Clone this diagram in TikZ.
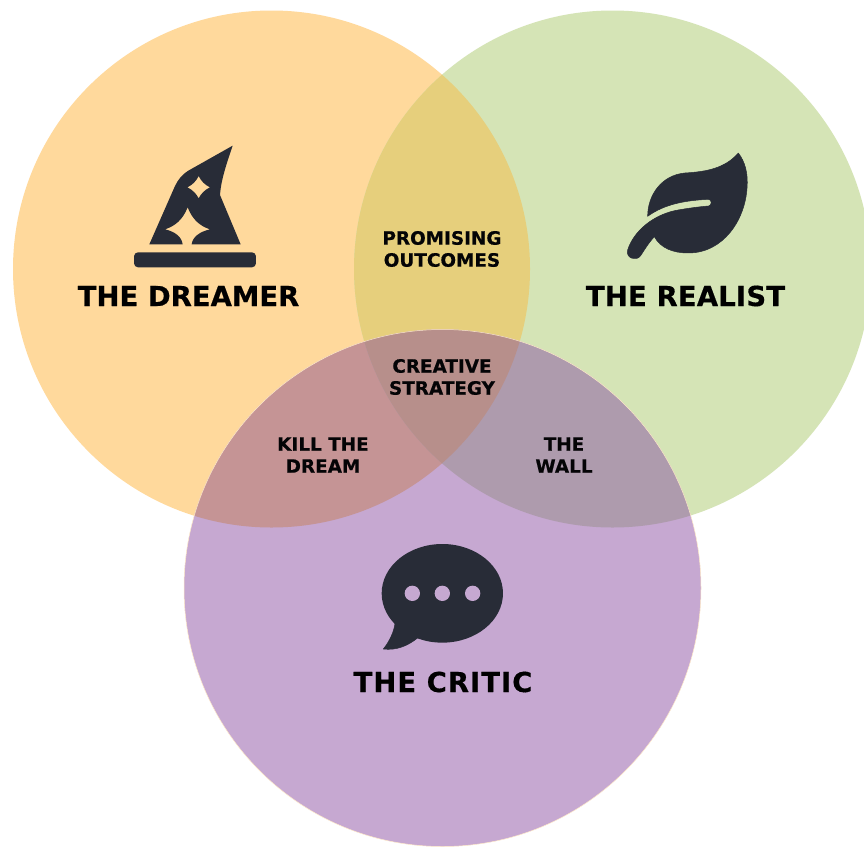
\documentclass[tikz,border=0pt]{standalone}
\usepackage{fontspec}
\setmainfont[BoldFeatures={FakeBold=0.5}]{DejaVu Sans}
\definecolor{cO}{HTML}{FFD99C}
\definecolor{cG}{HTML}{D5E4B6}
\definecolor{cP}{HTML}{C6A8D1}
\definecolor{cOG}{HTML}{E6CF7C}
\definecolor{cOP}{HTML}{C59495}
\definecolor{cGP}{HTML}{AE9BAD}
\definecolor{cAll}{HTML}{B78F8B}
\definecolor{ink}{HTML}{282C37}
\tikzset{
  big/.style={font=\bfseries\fontsize{27.5}{27.5}\selectfont,text=black,inner sep=0pt},
  small/.style={font=\bfseries\fontsize{18.4}{22}\selectfont,text=black!90!ink,align=center,inner sep=0pt},
  icon/.style={fill=ink,draw=ink,line width=.5pt,line join=round}
}
\def\cA{(271.5,269) circle (258.5)}
\def\cB{(612.5,269) circle (258.5)}
\def\cC{(442.5,588) circle (258.5)}
\begin{document}
\begin{tikzpicture}[x=1pt,y=-1pt]
\useasboundingbox (0,0) rectangle (864,846);
\clip (0,0) rectangle (864,846);
\fill[white] (0,0) rectangle (864,846);
\fill[cO] \cA;
\fill[cG] \cB;
\begin{scope}\clip \cA; \fill[cOG] \cB; \end{scope}
\fill[cP] \cC;
\begin{scope}\clip \cC; \fill[cOP] \cA; \fill[cGP] \cB;
  \clip \cA; \fill[cAll] \cB; \end{scope}
\draw[cO!55!white,line width=.5pt] \cC;
% hat
\begin{scope}[shift={(120,130)},x=0.3333pt,y=-0.3333pt]
\fill[fill=ink,even odd rule] (338,47) -- (205,122) .. controls (185,135) and (175,148) .. (165,168) -- (88,343) -- (188,343)
  .. controls (185,320) and (165,305) .. (135,298) .. controls (165,288) and (188,270) .. (203,232)
  .. controls (218,270) and (240,288) .. (270,298) .. controls (240,305) and (218,320) .. (215,343)
  -- (362,343) -- (300,195) .. controls (303,150) and (320,100) .. (338,47) -- cycle
  (236,138) .. controls (243,153) and (255,165) .. (270,172) .. controls (255,179) and (243,191) .. (236,205)
  .. controls (229,191) and (217,179) .. (202,172) .. controls (217,165) and (229,153) .. (236,138) -- cycle;
\fill[fill=ink,rounded corners=4pt] (42,367) rectangle (408,412);
\end{scope}
% leaf
\begin{scope}[shift={(610,135)},x=0.3333pt,y=-0.3333pt]
\fill[icon] (385,54) .. controls (405,80) and (415,115) .. (411,160)
  .. controls (405,255) and (340,354) .. (235,354) .. controls (190,354) and (152,340) .. (133,305)
  .. controls (115,325) and (103,345) .. (92,362) .. controls (80,380) and (46,370) .. (53,345)
  .. controls (70,290) and (130,236) .. (210,224) .. controls (240,219) and (270,215) .. (296,213)
  .. controls (306,212) and (306,193) .. (296,193) .. controls (230,196) and (165,206) .. (113,244)
  .. controls (113,180) and (155,120) .. (225,114) .. controls (290,110) and (345,100) .. (385,54) -- cycle;
\end{scope}
% bubble
\begin{scope}[shift={(370,530)},x=0.3333pt,y=-0.3333pt]
\fill[fill=ink] (217,190) ellipse [x radius=182,y radius=148];
\fill[icon] (75,280) .. controls (72,305) and (58,335) .. (40,357) .. controls (80,362) and (115,347) .. (145,322) -- cycle;
\fill[cP] (127,190) circle (23) (217,190) circle (23) (308,190) circle (23);
\end{scope}
\node[big] (dreamer) at (188.5,296) {THE DREAMER};
\node[big] (realist) at (685.5,296) {\addfontfeature{LetterSpace=0.6}THE REALIST};
\node[big] (critic) at (443,682) {\addfontfeature{LetterSpace=3.6}THE CRITIC};
\node[small] (prom) at (442,249) {PROMISING\\OUTCOMES};
\node[small] (crea) at (442,377) {CREATIVE\\STRATEGY};
\node[small] (kill) at (323,455) {KILL THE\\DREAM};
\node[small] (wall) at (564,455) {THE\\WALL};
\end{tikzpicture}
\end{document}
